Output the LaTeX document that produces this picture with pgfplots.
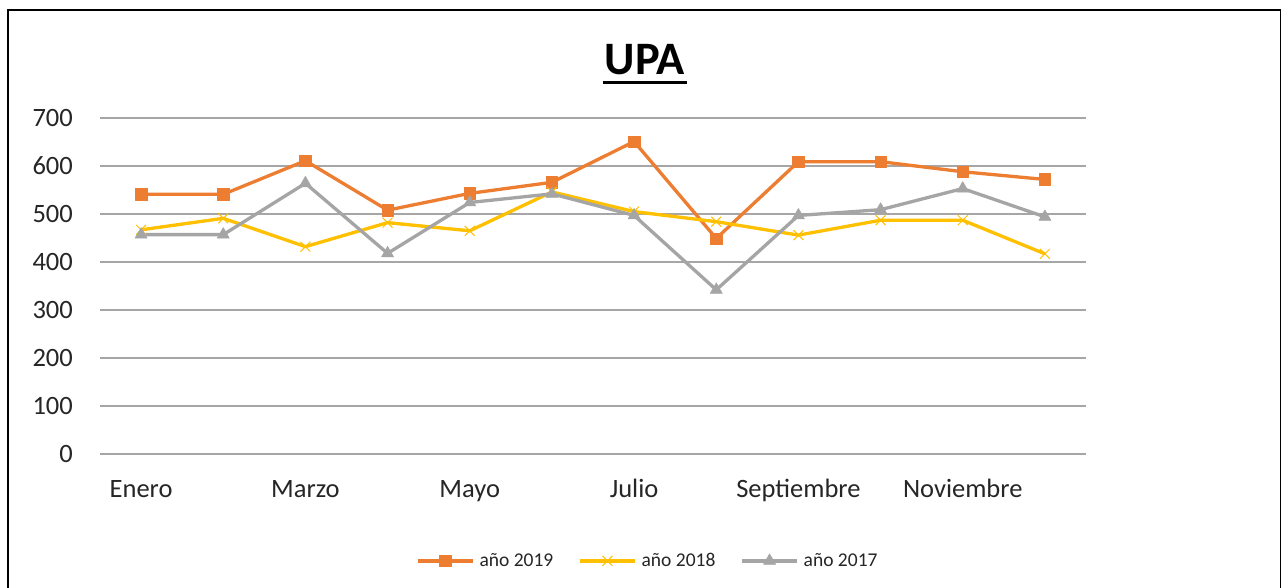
\documentclass[border=0pt]{standalone}
\usepackage{pgfplots}
\pgfplotsset{compat=1.18}
\usepackage{fontspec}
\setmainfont{Carlito}
\definecolor{c19}{HTML}{ED7D31}
\definecolor{c18}{HTML}{FFC000}
\definecolor{c17}{HTML}{A5A5A5}
\definecolor{gridc}{HTML}{A6A6A6}
\definecolor{txt}{HTML}{262626}
\begin{document}
\begin{tikzpicture}[x=1pt,y=1pt]
\path[use as bounding box, fill=white] (0,0) rectangle (1282,-588);
\draw[line width=1.5pt] (8,-600) -- (8,-10) -- (1280.5,-10) -- (1280.5,-600);
\node[anchor=base, inner sep=0pt, font=\bfseries\fontsize{46.5}{50}\selectfont] at (645,-75) {UPA};
\draw[line width=3pt] (603,-82.5) -- (687,-82.5);
\begin{axis}[
  at={(100pt,-454pt)}, anchor=south west,
  scale only axis, width=986pt, height=336pt,
  xmin=-0.5, xmax=11.5, ymin=0, ymax=700,
  clip=false,
  axis line style={draw=none},
  major tick length=0pt,
  ymajorgrids, grid style={line width=1.2pt, color=gridc},
  ytick={0,100,...,700},
  xtick={0,2,4,6,8,10},
  xticklabels={Enero,Marzo,Mayo,Julio,Septiembre,Noviembre},
  /pgf/number format/assume math mode=true,
  tick label style={font=\fontsize{26.5}{30}\selectfont, text=txt},
  yticklabel style={anchor=east, inner sep=0pt, xshift=-27pt},
  xticklabel style={anchor=base, inner sep=0pt, yshift=-43pt},
  legend columns=3,
  legend style={at={(axis description cs:0.3205,-0.318)}, anchor=west,
    draw=none, fill=none, inner sep=0pt,
    font=\fontsize{19.5}{22}\selectfont, text=txt,
    nodes={inner sep=0pt},
    /tikz/every odd column/.append style={column sep=5pt},
    /tikz/every even column/.append style={column sep=25pt}},
  legend image code/.code={\draw[mark repeat=2,mark phase=2] plot coordinates {(0pt,0pt) (27.5pt,0pt) (55pt,0pt)};},
]
\addplot[c19, line width=3.3pt, line join=round, mark=square*, mark size=5.7pt, mark options={line width=0.5pt, fill=c19}]
 coordinates {(0,541) (1,541) (2,611) (3,508) (4,543) (5,566) (6,651) (7,449) (8,609) (9,609) (10,588) (11,572)};
\addlegendentry{año 2019}
\addplot[c18, line width=3.3pt, line join=round, mark=x, mark size=7pt, mark options={line width=1pt}]
 coordinates {(0,467) (1,491) (2,432) (3,482) (4,465) (5,546) (6,505) (7,484) (8,456) (9,487) (10,487) (11,417)};
\addlegendentry{año 2018}
\addplot[c17, line width=3.3pt, line join=round, mark=triangle*, mark size=7pt, mark options={line width=0.5pt, fill=c17}]
 coordinates {(0,457) (1,457) (2,564) (3,418) (4,524) (5,542) (6,497) (7,342) (8,497) (9,509) (10,553) (11,494)};
\addlegendentry{año 2017}
\end{axis}
\end{tikzpicture}
\end{document}
